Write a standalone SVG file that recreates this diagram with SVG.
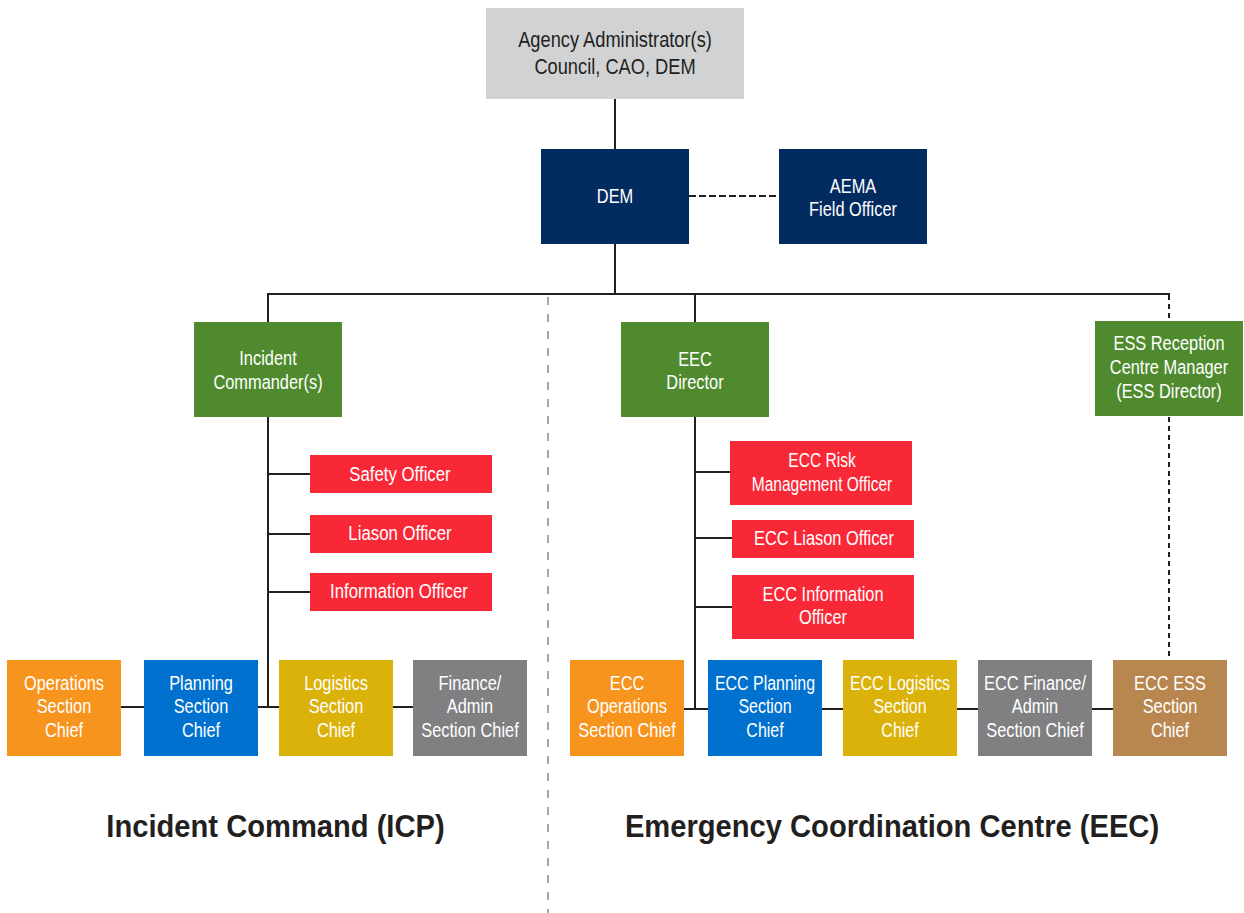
<svg xmlns="http://www.w3.org/2000/svg" width="1244" height="913" viewBox="0 0 1244 913">
<style>
text{font-family:"Liberation Sans",Arial,sans-serif;font-size:21px;fill:#fff;text-anchor:middle}
.dark{fill:#231f20;font-size:22px}
.title{font-weight:bold;font-size:31px;fill:#231f20}
.ln{stroke:#231f20;stroke-width:2;fill:none}
.dash{stroke:#231f20;stroke-width:2;fill:none;stroke-dasharray:7 3}
.dash2{stroke:#231f20;stroke-width:2;fill:none;stroke-dasharray:5 4}
.div{stroke:#8a8a8a;stroke-width:1.5;fill:none;stroke-dasharray:8 9}
.navy{fill:#022b5f}.green{fill:#4f8b2e}.red{fill:#f92837}.orange{fill:#f7941d}.blue{fill:#0071ce}.yellow{fill:#dbb20a}.gray{fill:#808083}.brown{fill:#b8874f}
</style>
<line class="div" x1="548" y1="297" x2="548" y2="913"/>
<g id="connectors">
<path class="ln" d="M615 99V149M615 244V294M267 294H1170M268 294V322M695 294V322"/>
<path class="dash" d="M689 196H779"/>
<path class="dash2" d="M1169 295V321M1169 417V660"/>
<path class="ln" d="M268 417V707M268 474H310M268 534H310M268 592H310"/>
<path class="ln" d="M121 707H144M258 707H279M393 707H413"/>
<path class="ln" d="M695 417V709M695 472H730M695 538H732M695 607H732"/>
<path class="ln" d="M684 709H708M822 709H843M957 709H978M1092 709H1113"/>
</g>
<g id="agency"><rect x="486" y="8" width="258" height="91" fill="#d1d2d4"/><text class="dark" transform="translate(615 47) scale(.83 1)"><tspan x="0">Agency Administrator(s)</tspan><tspan x="0" dy="27">Council, CAO, DEM</tspan></text></g>
<g id="dem"><rect class="navy" x="541" y="149" width="148" height="95"/><text transform="translate(615 203) scale(.78 1)">DEM</text></g>
<g id="aema"><rect class="navy" x="779" y="149" width="148" height="95"/><text transform="translate(853 193) scale(.78 1)"><tspan x="0">AEMA</tspan><tspan x="0" dy="23.5">Field Officer</tspan></text></g>
<g id="ic"><rect class="green" x="194" y="322" width="148" height="95"/><text transform="translate(268 365) scale(.78 1)"><tspan x="0">Incident</tspan><tspan x="0" dy="24">Commander(s)</tspan></text></g>
<g id="eec"><rect class="green" x="621" y="322" width="148" height="95"/><text transform="translate(695 366) scale(.78 1)"><tspan x="0">EEC</tspan><tspan x="0" dy="23.5">Director</tspan></text></g>
<g id="ess"><rect class="green" x="1095" y="321" width="148" height="95"/><text transform="translate(1169 350) scale(.78 1)"><tspan x="0">ESS Reception</tspan><tspan x="0" dy="24">Centre Manager</tspan><tspan x="0" dy="24">(ESS Director)</tspan></text></g>
<g id="safety"><rect class="red" x="310" y="455" width="182" height="38"/><text transform="translate(400 481) scale(.8 1)">Safety Officer</text></g>
<g id="liason"><rect class="red" x="310" y="515" width="182" height="38"/><text transform="translate(400 540) scale(.8 1)">Liason Officer</text></g>
<g id="info"><rect class="red" x="310" y="573" width="182" height="38"/><text transform="translate(399 598) scale(.8 1)">Information Officer</text></g>
<g id="risk"><rect class="red" x="730" y="441" width="182" height="64"/><text transform="translate(822 467) scale(.74 1)"><tspan x="0">ECC Risk</tspan><tspan x="0" dy="24">Management Officer</tspan></text></g>
<g id="eliason"><rect class="red" x="732" y="520" width="182" height="38"/><text transform="translate(824 545) scale(.78 1)">ECC Liason Officer</text></g>
<g id="einfo"><rect class="red" x="732" y="575" width="182" height="64"/><text transform="translate(823 601) scale(.78 1)"><tspan x="0">ECC Information</tspan><tspan x="0" dy="23.5">Officer</tspan></text></g>
<g id="ops"><rect class="orange" x="7" y="660" width="114" height="96"/><text transform="translate(64 690) scale(.78 1)"><tspan x="0">Operations</tspan><tspan x="0" dy="23.5">Section</tspan><tspan x="0" dy="23.5">Chief</tspan></text></g>
<g id="plan"><rect class="blue" x="144" y="660" width="114" height="96"/><text transform="translate(201 690) scale(.78 1)"><tspan x="0">Planning</tspan><tspan x="0" dy="23.5">Section</tspan><tspan x="0" dy="23.5">Chief</tspan></text></g>
<g id="log"><rect class="yellow" x="279" y="660" width="114" height="96"/><text transform="translate(336 690) scale(.78 1)"><tspan x="0">Logistics</tspan><tspan x="0" dy="23.5">Section</tspan><tspan x="0" dy="23.5">Chief</tspan></text></g>
<g id="fin"><rect class="gray" x="413" y="660" width="114" height="96"/><text transform="translate(470 690) scale(.78 1)"><tspan x="0">Finance/</tspan><tspan x="0" dy="23.5">Admin</tspan><tspan x="0" dy="23.5">Section Chief</tspan></text></g>
<g id="eops"><rect class="orange" x="570" y="660" width="114" height="96"/><text transform="translate(627 690) scale(.78 1)"><tspan x="0">ECC</tspan><tspan x="0" dy="23.5">Operations</tspan><tspan x="0" dy="23.5">Section Chief</tspan></text></g>
<g id="eplan"><rect class="blue" x="708" y="660" width="114" height="96"/><text transform="translate(765 690) scale(.76 1)"><tspan x="0">ECC Planning</tspan><tspan x="0" dy="23.5">Section</tspan><tspan x="0" dy="23.5">Chief</tspan></text></g>
<g id="elog"><rect class="yellow" x="843" y="660" width="114" height="96"/><text transform="translate(900 690) scale(.76 1)"><tspan x="0">ECC Logistics</tspan><tspan x="0" dy="23.5">Section</tspan><tspan x="0" dy="23.5">Chief</tspan></text></g>
<g id="efin"><rect class="gray" x="978" y="660" width="114" height="96"/><text transform="translate(1035 690) scale(.78 1)"><tspan x="0">ECC Finance/</tspan><tspan x="0" dy="23.5">Admin</tspan><tspan x="0" dy="23.5">Section Chief</tspan></text></g>
<g id="eess"><rect class="brown" x="1113" y="660" width="114" height="96"/><text transform="translate(1170 690) scale(.78 1)"><tspan x="0">ECC ESS</tspan><tspan x="0" dy="23.5">Section</tspan><tspan x="0" dy="23.5">Chief</tspan></text></g>
<text class="title" transform="translate(275.5 837) scale(.94 1)">Incident Command (ICP)</text>
<text class="title" transform="translate(892 837) scale(.94 1)">Emergency Coordination Centre (EEC)</text>
</svg>
